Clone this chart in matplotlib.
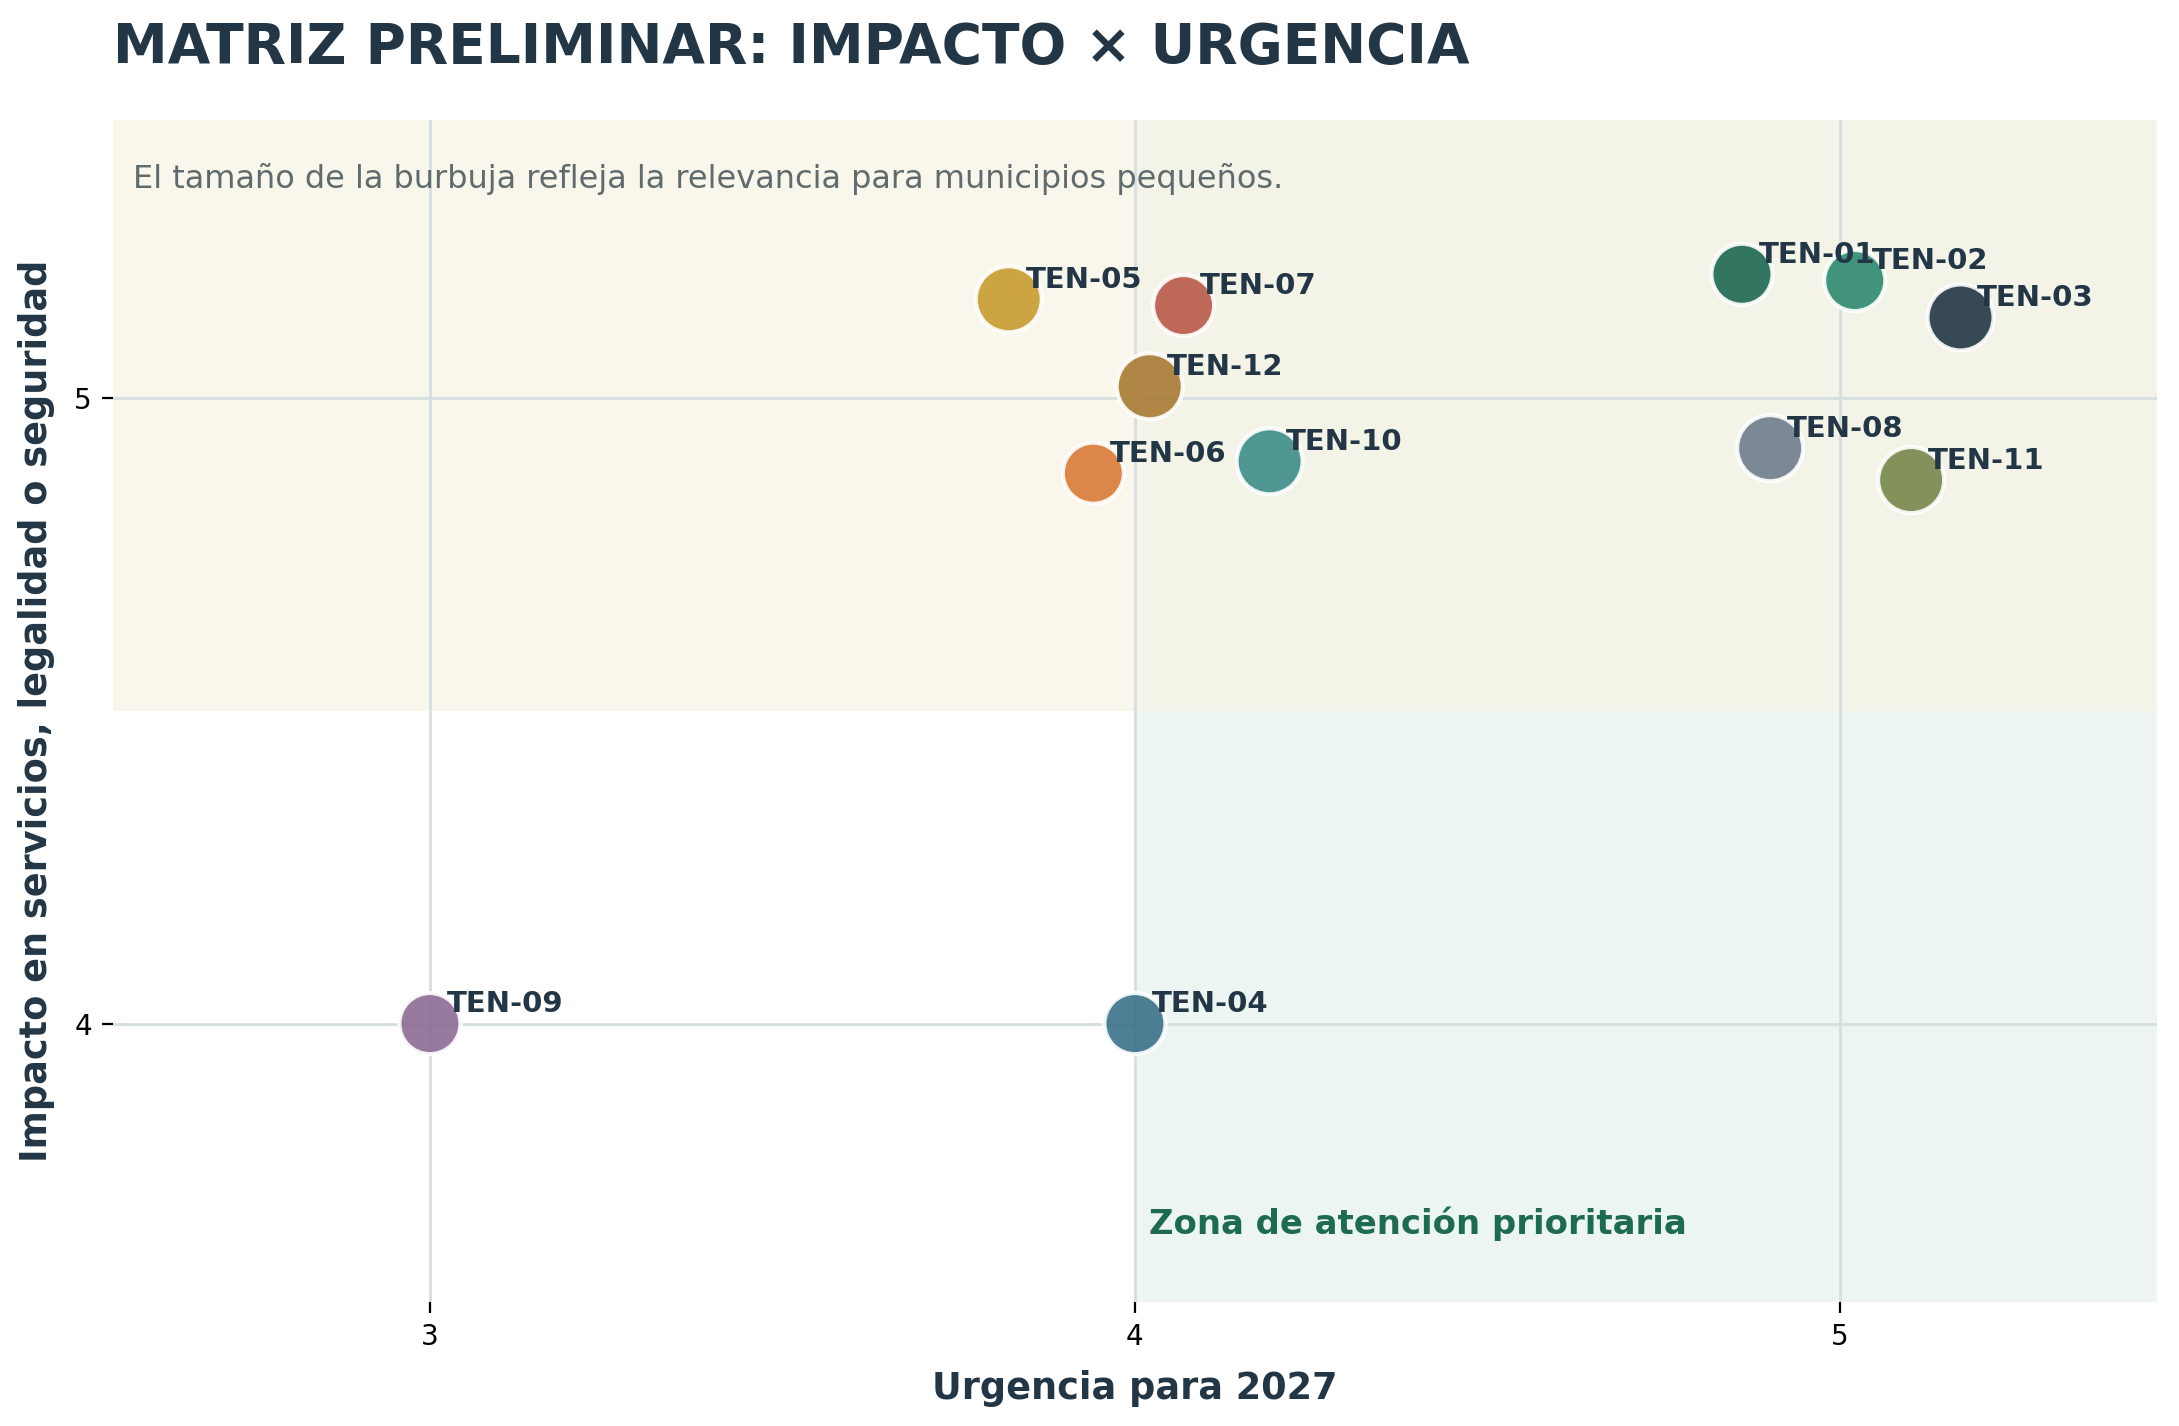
import matplotlib
matplotlib.use("Agg")
import matplotlib.pyplot as plt
from matplotlib.patches import Rectangle

# ---- data ----
codes = ["TEN-01", "TEN-02", "TEN-03", "TEN-04", "TEN-05", "TEN-06",
         "TEN-07", "TEN-08", "TEN-09", "TEN-10", "TEN-11", "TEN-12"]
urgencia = [4.861, 5.021, 5.171, 4.0, 3.821, 3.941,
            4.069, 4.901, 3.0, 4.191, 5.101, 4.021]
impacto = [5.198, 5.188, 5.129, 4.0, 5.158, 4.880,
           5.148, 4.920, 4.0, 4.899, 4.869, 5.019]
relevancia = [4, 4, 5, 4, 5, 4, 4, 5, 4, 5, 5, 5]
colores = ["#1d6752", "#2e896f", "#213645", "#3b7189", "#c79b2e", "#d97a37",
           "#ba5b49", "#6f7c8d", "#8d6c94", "#3e8c89", "#76884b", "#a87a33"]
x_ticks = [3, 4, 5]
y_ticks = [4, 5]
umbral_x = 4.0
umbral_y = 4.5
xlim = (2.55, 5.45)
ylim = (3.555, 5.445)

dark = "#223645"

fig = plt.figure(figsize=(10.895, 7.13), dpi=200)
ax = fig.add_axes([0.0517, 0.087, 0.9383, 0.829])
ax.set_xlim(*xlim)
ax.set_ylim(*ylim)

# quadrant shading
ax.add_patch(Rectangle((xlim[0], umbral_y), umbral_x - xlim[0], ylim[1] - umbral_y,
                       facecolor="#f9f6ec", edgecolor="none", zorder=0))
ax.add_patch(Rectangle((umbral_x, umbral_y), xlim[1] - umbral_x, ylim[1] - umbral_y,
                       facecolor="#f3f3e8", edgecolor="none", zorder=0))
ax.add_patch(Rectangle((umbral_x, ylim[0]), xlim[1] - umbral_x, umbral_y - ylim[0],
                       facecolor="#ecf5f1", edgecolor="none", zorder=0))

ax.set_xticks(x_ticks)
ax.set_yticks(y_ticks)
ax.grid(True, color="#d5dee1", linewidth=1.0, zorder=1)
ax.set_axisbelow(True)
for s in ax.spines.values():
    s.set_visible(False)
ax.tick_params(labelsize=10, colors="black", length=4, width=0.8)

sizes = [82 * r + 156 for r in relevancia]
ax.scatter(urgencia, impacto, s=sizes, c=colores, alpha=0.9,
           edgecolors="white", linewidths=1.5, zorder=3)

for code, x, y in zip(codes, urgencia, impacto):
    ax.annotate(code, (x, y), xytext=(6, 2), textcoords="offset points",
                ha="left", va="bottom", fontsize=10.5, fontweight="bold",
                color=dark, zorder=4)

ax.text(0.01, 0.95, "El tamaño de la burbuja refleja la relevancia para municipios pequeños.",
        transform=ax.transAxes, ha="left", va="center", fontsize=11.5, color="#5f6b6d")
ax.text(umbral_x + 0.02, 3.68, "Zona de atención prioritaria", ha="left", va="center",
        fontsize=12.2, fontweight="bold", color="#1d6b50", zorder=4)

ax.set_xlabel("Urgencia para 2027", fontsize=13.2, fontweight="bold", color=dark, labelpad=7)
ax.set_ylabel("Impacto en servicios, legalidad o seguridad", fontsize=13.2,
              fontweight="bold", color=dark, labelpad=7)

fig.text(0.0517, 0.966, "MATRIZ PRELIMINAR: IMPACTO × URGENCIA", ha="left", va="center",
         fontsize=19.8, fontweight="bold", color=dark)

fig.savefig("out.png", dpi=200)
